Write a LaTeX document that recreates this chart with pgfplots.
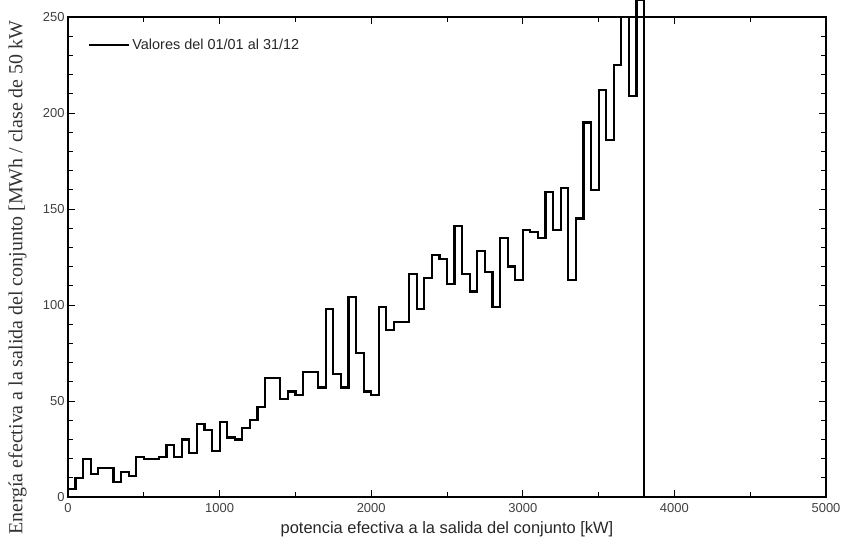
\documentclass[border=0pt]{standalone}
\usepackage{fontspec}
\setmainfont{Liberation Sans}
\newfontfamily\seriffont{Liberation Serif}
\usepackage{pgfplots}
\pgfplotsset{compat=1.18}
\begin{document}
\begin{tikzpicture}
\useasboundingbox (-68bp,-45bp) rectangle (775bp,497bp);
\begin{axis}[
  at={(0,0)}, anchor=south west,
  scale only axis, width=758bp, height=480bp,
  xmin=0, xmax=5000, ymin=0, ymax=250,
  xtick={0,1000,...,5000}, minor xtick={500,1500,...,4500},
  ytick={0,50,...,250}, minor ytick={10,20,...,240},
  tick align=inside, major tick length=7bp, minor tick length=5bp,
  axis line style={line width=1.6bp},
  tick style={line width=0.9bp, black},
  tick label style={font=\fontsize{13}{13}\selectfont, text=black!75},
  xticklabel shift=3bp,
  /pgf/number format/assume math mode=true,
  /pgf/number format/1000 sep={},
  scaled ticks=false,
  clip=false,
  xlabel={potencia efectiva a la salida del conjunto [kW]},
  xlabel style={font=\fontsize{16.5}{16.5}\selectfont, text=black!85, at={(axis description cs:0.5,-0.0666)}, anchor=center, inner sep=0pt},
  ylabel={\seriffont Energía efectiva a la salida del conjunto [MWh / clase de 50 kW},
  ylabel style={font=\fontsize{20}{20}\selectfont, text=black!80, at={(axis description cs:-0.0666,-0.0792)}, anchor=west, rotate=0, inner sep=0pt},
  legend style={draw=none, fill=none, font=\fontsize{14.5}{14.5}\selectfont, text=black!85, at={(axis description cs:0.0264,0.9417)}, anchor=west, inner sep=0pt},
  legend cell align=left,
  legend image code/.code={\draw[#1] (0bp,0bp) -- (40bp,0bp);},
]
\addplot[black, line width=2.2bp, const plot mark left] table {
x y
0 4
50 10
100 20
150 12
200 15
250 15
300 8
350 13
400 11
450 21
500 20
550 20
600 21
650 27
700 21
750 30
800 23
850 38
900 35
950 24
1000 39
1050 31
1100 30
1150 36
1200 40
1250 47
1300 62
1350 62
1400 51
1450 55
1500 53
1550 65
1600 65
1650 57
1700 98
1750 64
1800 57
1850 104
1900 75
1950 55
2000 53
2050 99
2100 87
2150 91
2200 91
2250 116
2300 98
2350 114
2400 126
2450 124
2500 111
2550 141
2600 116
2650 107
2700 128
2750 117
2800 99
2850 135
2900 120
2950 113
3000 139
3050 138
3100 135
3150 159
3200 139
3250 161
3300 113
3350 145
3400 195
3450 160
3500 212
3550 186
3600 225
3650 250
3700 209
3750 259
3800 0
};
\addlegendentry{Valores del 01/01 al 31/12}
\end{axis}
\end{tikzpicture}
\end{document}
